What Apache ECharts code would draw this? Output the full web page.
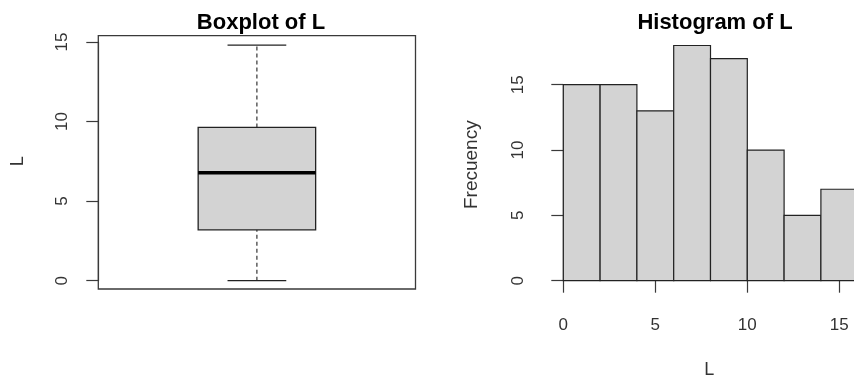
<!DOCTYPE html>
<html><head><meta charset="utf-8">
<script src="https://cdn.jsdelivr.net/npm/echarts@6/dist/echarts.min.js"></script>
<style>html,body{margin:0;padding:0;background:#fff}#c{width:854px;height:378px}</style>
</head><body><div id="c"></div>
<script>
// Boxplot statistics of L: min, Q1, median, Q3, max
const boxStats = [0, 3.2, 6.78, 9.63, 14.8];
// Histogram bins and counts
const binStarts = [0, 2, 4, 6, 8, 10, 12, 14];
const binEnds   = [2, 4, 6, 8, 10, 12, 14, 16];
const counts    = [15, 15, 13, 18, 17, 10, 5, 7];
// Tick labels
const boxYTicks  = [0, 5, 10, 15];
const histXTicks = [0, 5, 10, 15];
const histYTicks = [0, 5, 10, 15];

const FONT = "'Liberation Sans', Arial, sans-serif";
const AX = '#3a3a3a';
const TXT = '#333';
const FILL = '#d3d3d3';
const EDGE = '#222';

const chart = echarts.init(document.getElementById('c'), null, {renderer: 'canvas'});

function axisCommon(ticks, margin) {
  return {
    axisLine: {show: true, lineStyle: {color: AX, width: 1.2}},
    axisTick: {show: true, inside: false, length: 12, customValues: ticks, lineStyle: {color: AX, width: 1.2}},
    axisLabel: {show: true, customValues: ticks, color: TXT, fontSize: 17, fontFamily: FONT, margin: margin},
    splitLine: {show: false},
    nameTextStyle: {color: TXT, fontSize: 18, fontFamily: FONT}
  };
}

const histData = binStarts.map((s, i) => [s, binEnds[i], counts[i]]);

const xHist = Object.assign({gridIndex: 2, type: 'value', min: 0, max: 15, interval: 5, offset: 8.3,
  name: 'L', nameLocation: 'middle', nameGap: 72}, axisCommon(histXTicks, 28));
xHist.nameTextStyle = {color: TXT, fontSize: 18, fontFamily: FONT, padding: [0, 0, 0, 16]};

const yBox = Object.assign({gridIndex: 1, type: 'value', min: 0, max: 15, interval: 5,
  name: 'L', nameLocation: 'middle', nameGap: 71}, axisCommon(boxYTicks, 27));
yBox.axisLabel.rotate = 90;

const yHist = Object.assign({gridIndex: 2, type: 'value', min: 0, max: 15, interval: 5, offset: 11,
  name: 'Frecuency', nameLocation: 'middle', nameGap: 71}, axisCommon(histYTicks, 25));
yHist.axisLabel.rotate = 90;
yHist.nameTextStyle = {color: TXT, fontSize: 19, fontFamily: FONT, padding: [0, 0, 0, 36]};

const option = {
  animation: false,
  backgroundColor: '#fff',
  textStyle: {fontFamily: FONT},
  title: [
    {text: 'Boxplot of L', left: 256, textAlign: 'center', top: 7,
     textStyle: {fontSize: 22, fontWeight: 'bold', color: '#000', fontFamily: FONT}},
    {text: 'Histogram of L', left: 710, textAlign: 'center', top: 7,
     textStyle: {fontSize: 22, fontWeight: 'bold', color: '#000', fontFamily: FONT}}
  ],
  grid: [
    {left: 98.3, top: 35.7, width: 317.2, height: 253.3, show: true, borderColor: AX, borderWidth: 1.3, backgroundColor: 'transparent', containLabel: false, outerBoundsMode: 'none'},
    {left: 98.3, top: 42, width: 317.2, height: 238.7, containLabel: false, outerBoundsMode: 'none'},
    {left: 563.3, top: 84.7, width: 276, height: 196, containLabel: false, outerBoundsMode: 'none'}
  ],
  xAxis: [
    {gridIndex: 0, type: 'value', show: false, min: 0, max: 1},
    {gridIndex: 1, type: 'value', show: false, min: 0.46, max: 1.54},
    xHist
  ],
  yAxis: [
    {gridIndex: 0, type: 'value', show: false, min: 0, max: 1},
    yBox,
    yHist
  ],
  series: [
    {
      type: 'custom', xAxisIndex: 1, yAxisIndex: 1, clip: false,
      data: [[1].concat(boxStats)],
      renderItem: function (params, api) {
        const cx = api.value(0);
        const mn = api.value(1), q1 = api.value(2), md = api.value(3), q3 = api.value(4), mx = api.value(5);
        const halfW = api.size([0.2, 0])[0];
        const capW = api.size([0.1, 0])[0];
        const pMin = api.coord([cx, mn]), pQ1 = api.coord([cx, q1]), pMd = api.coord([cx, md]);
        const pQ3 = api.coord([cx, q3]), pMax = api.coord([cx, mx]);
        const x = pMin[0];
        return {
          type: 'group',
          children: [
            {type: 'line', shape: {x1: x, y1: pQ3[1], x2: x, y2: pMax[1]}, style: {stroke: EDGE, lineWidth: 1.1, lineDash: [4, 3]}},
            {type: 'line', shape: {x1: x, y1: pMin[1], x2: x, y2: pQ1[1]}, style: {stroke: EDGE, lineWidth: 1.1, lineDash: [4, 3]}},
            {type: 'line', shape: {x1: x - capW, y1: pMax[1], x2: x + capW, y2: pMax[1]}, style: {stroke: EDGE, lineWidth: 1.2}},
            {type: 'line', shape: {x1: x - capW, y1: pMin[1], x2: x + capW, y2: pMin[1]}, style: {stroke: EDGE, lineWidth: 1.2}},
            {type: 'rect', shape: {x: x - halfW, y: pQ3[1], width: 2 * halfW, height: pQ1[1] - pQ3[1]}, style: {fill: FILL, stroke: EDGE, lineWidth: 1.3}},
            {type: 'line', shape: {x1: x - halfW, y1: pMd[1], x2: x + halfW, y2: pMd[1]}, style: {stroke: '#000', lineWidth: 3.5}}
          ]
        };
      }
    },
    {
      type: 'custom', xAxisIndex: 2, yAxisIndex: 2, clip: false,
      data: histData,
      renderItem: function (params, api) {
        const p0 = api.coord([api.value(0), 0]);
        const p1 = api.coord([api.value(1), api.value(2)]);
        return {
          type: 'rect',
          shape: {x: p0[0], y: p1[1], width: p1[0] - p0[0], height: p0[1] - p1[1]},
          style: {fill: FILL, stroke: EDGE, lineWidth: 1.2}
        };
      }
    }
  ]
};
chart.setOption(option);
</script>
</body></html>
